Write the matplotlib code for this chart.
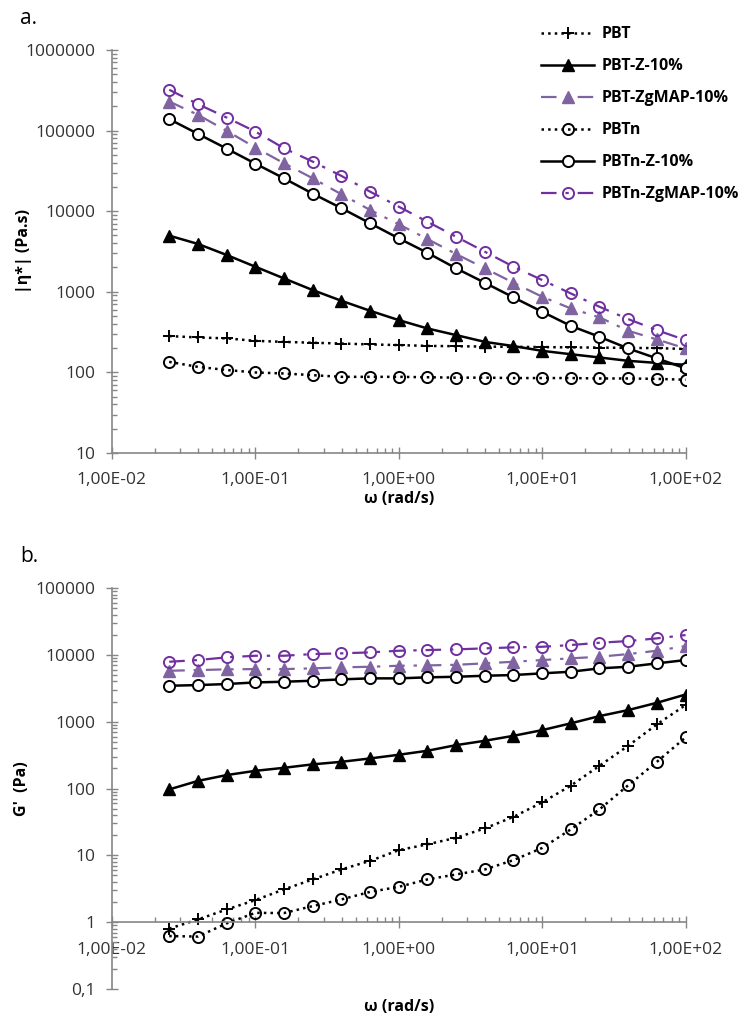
import numpy as np
import matplotlib.pyplot as plt
from matplotlib.ticker import FixedLocator, LogLocator, FuncFormatter, NullFormatter

plt.rcParams['font.family'] = ['Open Sans', 'DejaVu Sans']

# angular frequency (rad/s)
omega = [0.0251, 0.0398, 0.0631, 0.1, 0.158, 0.251, 0.398, 0.631, 1.0, 1.58,
         2.51, 3.98, 6.31, 10.0, 15.8, 25.1, 39.8, 63.1, 100.0]

labels = ["PBT", "PBT-Z-10%", "PBT-ZgMAP-10%", "PBTn", "PBTn-Z-10%", "PBTn-ZgMAP-10%"]

# |eta*| (Pa.s)
eta_pbt = [282, 271, 264, 246, 239, 233, 228, 222, 218, 213,
           211, 209, 207, 206, 204, 203, 201, 200, 195]
eta_pbt_z = [4970, 3920, 2860, 2045, 1467, 1050, 773, 581, 445, 351,
             290, 239, 212, 185, 168, 153, 139, 131, 124]
eta_pbt_zg = [229000, 156700, 99100, 61500, 39400, 25600, 16200, 10350, 6870, 4520,
              2940, 1954, 1294, 867, 622, 481, 328, 256, 198]
eta_pbtn = [135, 117, 107, 99.7, 96.9, 92.3, 88, 88, 88, 87,
            86, 86, 85, 85, 85, 84, 84, 83, 81]
eta_pbtn_z = [138700, 91000, 59700, 38900, 25600, 16500, 10900, 7070, 4600, 3050,
              1954, 1294, 851, 565, 378, 276, 198, 149, 112]
eta_pbtn_zg = [320600, 212800, 144900, 97200, 60400, 41200, 27400, 17460, 11370, 7410,
               4820, 3140, 2045, 1397, 955, 651, 458, 334, 251]

# G' (Pa)
g_pbt = [0.80, 1.10, 1.55, 2.14, 3.09, 4.36, 6.15, 8.27, 11.97, 14.6,
         18.3, 25.3, 37.7, 62, 110, 219, 436, 912, 1773]
g_pbt_z = [97, 130, 159, 184, 204, 230, 251, 282, 320, 367,
           446, 518, 615, 748, 944, 1213, 1492, 1918, 2550]
g_pbt_zg = [5780, 5920, 6070, 6130, 6130, 6280, 6500, 6640, 6870, 6950,
            7100, 7460, 7890, 8360, 8870, 9370, 10280, 11520, 13550]
g_pbtn = [0.62, 0.61, 0.96, 1.38, 1.37, 1.74, 2.19, 2.84, 3.38, 4.36,
          5.18, 6.15, 8.48, 12.9, 24.4, 48.7, 112, 251, 582]
g_pbtn_z = [3450, 3530, 3660, 3870, 3960, 4100, 4300, 4450, 4450, 4610,
            4700, 4870, 4990, 5290, 5590, 6280, 6640, 7460, 8360]
g_pbtn_zg = [7890, 8360, 9180, 9700, 9700, 10280, 10530, 10900, 11520, 11800,
             12080, 12510, 12950, 13220, 14020, 15180, 16100, 17660, 19780]

x_ticks = [0.01, 0.1, 1, 10, 100]
eta_ticks = [10, 100, 1000, 10000, 100000, 1000000]
g_ticks = [0.1, 1, 10, 100, 1000, 10000, 100000]

PURPLE_TRI = '#8064A2'
PURPLE_CIRC = '#7030A0'
AXIS_GREY = '#868686'
DASHDOT = (0, (7, 4, 1.5, 4))

styles = [
    dict(color='black', ls=':', lw=1.8, marker='+', ms=9, mew=1.4),
    dict(color='black', ls='-', lw=1.8, marker='^', ms=8, mfc='black'),
    dict(color=PURPLE_TRI, ls=DASHDOT, lw=1.6, marker='^', ms=8, mfc=PURPLE_TRI),
    dict(color='black', ls=':', lw=1.8, marker='o', ms=8, mfc='none', mew=1.4),
    dict(color='black', ls='-', lw=1.8, marker='o', ms=8, mfc='white', mew=1.4),
    dict(color=PURPLE_CIRC, ls=DASHDOT, lw=1.6, marker='o', ms=8, mfc='none', mew=1.4),
]


def x_fmt(v, pos):
    return f"{v:.2E}".replace('.', ',')


def y_fmt(v, pos):
    if v >= 1:
        return f"{v:.0f}"
    return f"{v:g}".replace('.', ',')


def style_axes(ax, yticks):
    ax.set_xscale('log')
    ax.set_yscale('log')
    ax.set_xlim(x_ticks[0], x_ticks[-1])
    ax.set_ylim(yticks[0], yticks[-1])
    for side in ['top', 'right']:
        ax.spines[side].set_visible(False)
    for side in ['left', 'bottom']:
        ax.spines[side].set_color(AXIS_GREY)
        ax.spines[side].set_linewidth(1.2)
    ax.xaxis.set_major_locator(FixedLocator(x_ticks))
    ax.yaxis.set_major_locator(FixedLocator(yticks))
    for axis in [ax.xaxis, ax.yaxis]:
        axis.set_minor_locator(LogLocator(base=10, subs=np.arange(2, 10), numticks=20))
        axis.set_minor_formatter(NullFormatter())
    ax.xaxis.set_major_formatter(FuncFormatter(x_fmt))
    ax.yaxis.set_major_formatter(FuncFormatter(y_fmt))
    ax.tick_params(which='major', direction='inout', length=8, width=1, color=AXIS_GREY,
                   labelsize=12.5, labelcolor='#333333')
    ax.tick_params(which='minor', direction='in', length=3.5, width=1, color=AXIS_GREY)
    ax.tick_params(axis='y', which='major', pad=8)
    ax.tick_params(axis='x', which='major', pad=10)


fig = plt.figure(figsize=(7.46, 10.17), dpi=100)
ax1 = fig.add_axes([0.150, 0.5546, 0.769, 0.3963])
ax2 = fig.add_axes([0.150, 0.0275, 0.769, 0.3943])

eta_series = [eta_pbt, eta_pbt_z, eta_pbt_zg, eta_pbtn, eta_pbtn_z, eta_pbtn_zg]
g_series = [g_pbt, g_pbt_z, g_pbt_zg, g_pbtn, g_pbtn_z, g_pbtn_zg]

handles = []
for lab, vals, st in zip(labels, eta_series, styles):
    h, = ax1.plot(omega, vals, label=lab, **st)
    handles.append(h)
for vals, st in zip(g_series, styles):
    ax2.plot(omega, vals, **st)

style_axes(ax1, eta_ticks)
style_axes(ax2, g_ticks)
ax2.spines['bottom'].set_position(('data', 1))

ax1.set_xlabel('ω (rad/s)', fontsize=11.5, fontweight='bold')
ax1.xaxis.set_label_coords(0.5, -0.095)
ax1.set_ylabel('|η*| (Pa.s)', fontsize=11.5, fontweight='bold')
ax1.yaxis.set_label_coords(-0.14, 0.5)

ax2.set_xlabel('ω (rad/s)', fontsize=11.5, fontweight='bold')
ax2.xaxis.set_label_coords(0.5, -0.024)
ax2.set_ylabel("G'  (Pa)", fontsize=11.5, fontweight='bold')
ax2.yaxis.set_label_coords(-0.143, 0.5)

fig.text(20 / 746, 1 - 18 / 1017, 'a.', fontsize=15, va='center', ha='left')
fig.text(20 / 746, 1 - 557 / 1017, 'b.', fontsize=15, va='center', ha='left')

fig.legend(handles=handles, loc='upper left', bbox_to_anchor=(527 / 746, 1 - 12 / 1017),
           frameon=False, prop=dict(weight='bold', size=11.5), handlelength=3.3,
           numpoints=1, labelspacing=1.0, handletextpad=0.5)

fig.savefig('out.png', dpi=100)
